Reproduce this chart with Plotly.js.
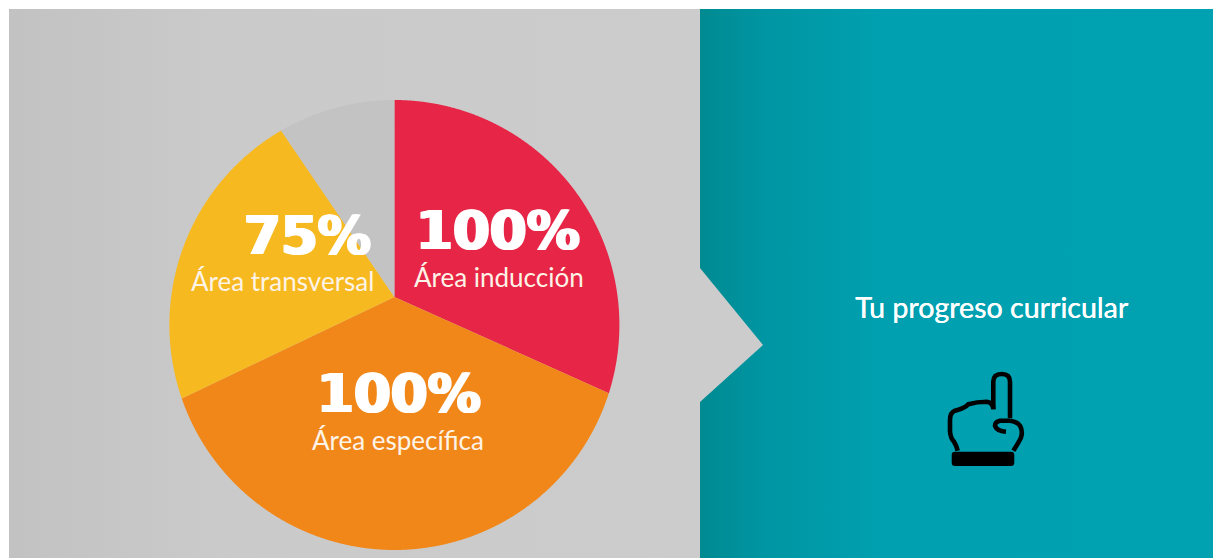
<!DOCTYPE html>
<html>
<head>
<meta charset="utf-8">
<script src="https://cdn.plot.ly/plotly-3.0.1.min.js"></script>
<style>html,body{margin:0;padding:0;background:#fff;overflow:hidden}#c{width:1213px;height:558px}</style>
</head>
<body>
<div id="c"></div>
<script>
var areaNames = ['Área inducción', 'Área específica', 'Área transversal', ''];
var percentLabels = ['100%', '100%', '75%', ''];
var sliceShares = [29.9, 39.8, 21.9, 8.4];
var sliceColors = ['#e72547', '#f18719', '#f6b91f', '#c3c3c3'];

var W = 1213, H = 558;
var circle = {x: 394.4, y: 325, r: 225};
var hub = {x: 394.4, y: 297};

function panel(x0, x1, stops) {
  return {
    type: 'scatter', mode: 'lines', x: [x0, x1, x1, x0, x0], y: [9, 9, H, H, 9],
    line: {width: 0}, fill: 'toself', hoverinfo: 'skip', showlegend: false,
    fillgradient: {type: 'horizontal', colorscale: stops}
  };
}
var traces = [
  panel(9, 700, [[0, '#c3c2c2'], [0.3, '#cbcaca'], [1, '#cdcccc']]),
  panel(700, W, [[0, '#008a91'], [0.12, '#0095a2'], [0.35, '#00a0b0'], [1, '#00a1b1']])
];
traces.push({
  type: 'scatter', mode: 'lines', x: [700, 763, 700, 700], y: [268, 345, 402, 268],
  line: {width: 0}, fill: 'toself', fillcolor: '#cdcccc', hoverinfo: 'skip', showlegend: false
});

var cum = 0;
sliceShares.forEach(function (v, i) {
  var a0 = cum / 100 * 2 * Math.PI;
  cum += v;
  var a1 = cum / 100 * 2 * Math.PI;
  var xs = [hub.x], ys = [hub.y], n = Math.ceil(v * 3.6 * 5);
  for (var k = 0; k <= n; k++) {
    var a = a0 + (a1 - a0) * k / n;
    xs.push(circle.x + circle.r * Math.sin(a));
    ys.push(circle.y - circle.r * Math.cos(a));
  }
  xs.push(hub.x); ys.push(hub.y);
  traces.push({
    type: 'scatter', mode: 'lines', x: xs, y: ys, name: areaNames[i] || 'Resto',
    line: {width: 0, simplify: false}, fill: 'toself', fillcolor: sliceColors[i], hoverinfo: 'name', showlegend: false
  });
});

// text positions (x, y of each block, in image pixels)
var bigPos = [[497.5, 230], [398.5, 393], [307, 235]];
var smallPos = [[499, 276.5], [397.5, 440], [282, 281]];
var ann = [];
function txt(t, p, font) {
  ann.push({x: p[0], y: p[1], xref: 'x', yref: 'y', text: t, showarrow: false,
    xanchor: 'center', yanchor: 'middle', font: font});
}
[0, 1, 2].forEach(function (i) {
  txt(percentLabels[i], bigPos[i], {family: 'DejaVu Sans', size: 53, weight: 700, color: '#ffffff',
    shadow: '1.5px 0 0 #ffffff, -1.5px 0 0 #ffffff'});
  txt(areaNames[i], smallPos[i], {family: 'Lato', size: 26, weight: 400, color: '#fdf3e6'});
});
txt('Tu progreso curricular', [991.5, 307], {family: 'Lato', size: 28.6, color: '#ffffff',
  shadow: '0.4px 0 0 #ffffff'});

function zp(s) { // icon outline, in units of 1/3 px from its corner
  return s.replace(/(-?[\d.]+),(-?[\d.]+)/g, function (m, a, b) {
    return (930 + a / 3).toFixed(1) + ',' + (360 + b / 3).toFixed(1);
  });
}
var iconPaths = [
  'M190,148 L190,65 Q190,42 215,42 Q240,42 240,65 L240,175',
  'M190,148 Q190,128 170,125 Q140,125 115,133 Q105,145 75,152 Q60,158 60,180 L60,215 Q62,235 72,245 Q80,258 83,272',
  'M240,182 L210,182 Q195,185 195,197 Q200,213 228,215',
  'M240,182 Q262,185 270,197 Q280,215 272,235 Q262,255 250,272'
];
var shapes = iconPaths.map(function (p) {
  return {type: 'path', xref: 'x', yref: 'y', path: zp(p), line: {color: '#000000', width: 4.6}, fillcolor: 'rgba(0,0,0,0)'};
});
shapes.push({type: 'path', xref: 'x', yref: 'y', fillcolor: '#000000', line: {width: 0},
  path: zp('M75,275 L243,275 Q253,275 253,285 L253,308 Q253,318 243,318 L75,318 Q65,318 65,308 L65,285 Q65,275 75,275 Z')});

Plotly.newPlot('c', traces, {
  width: W, height: H, margin: {l: 0, r: 0, t: 0, b: 0},
  paper_bgcolor: '#ffffff', plot_bgcolor: '#ffffff', showlegend: false,
  xaxis: {range: [0, W], visible: false, fixedrange: true},
  yaxis: {range: [H, 0], visible: false, fixedrange: true},
  annotations: ann, shapes: shapes
}, {displayModeBar: false});
</script>
</body>
</html>
